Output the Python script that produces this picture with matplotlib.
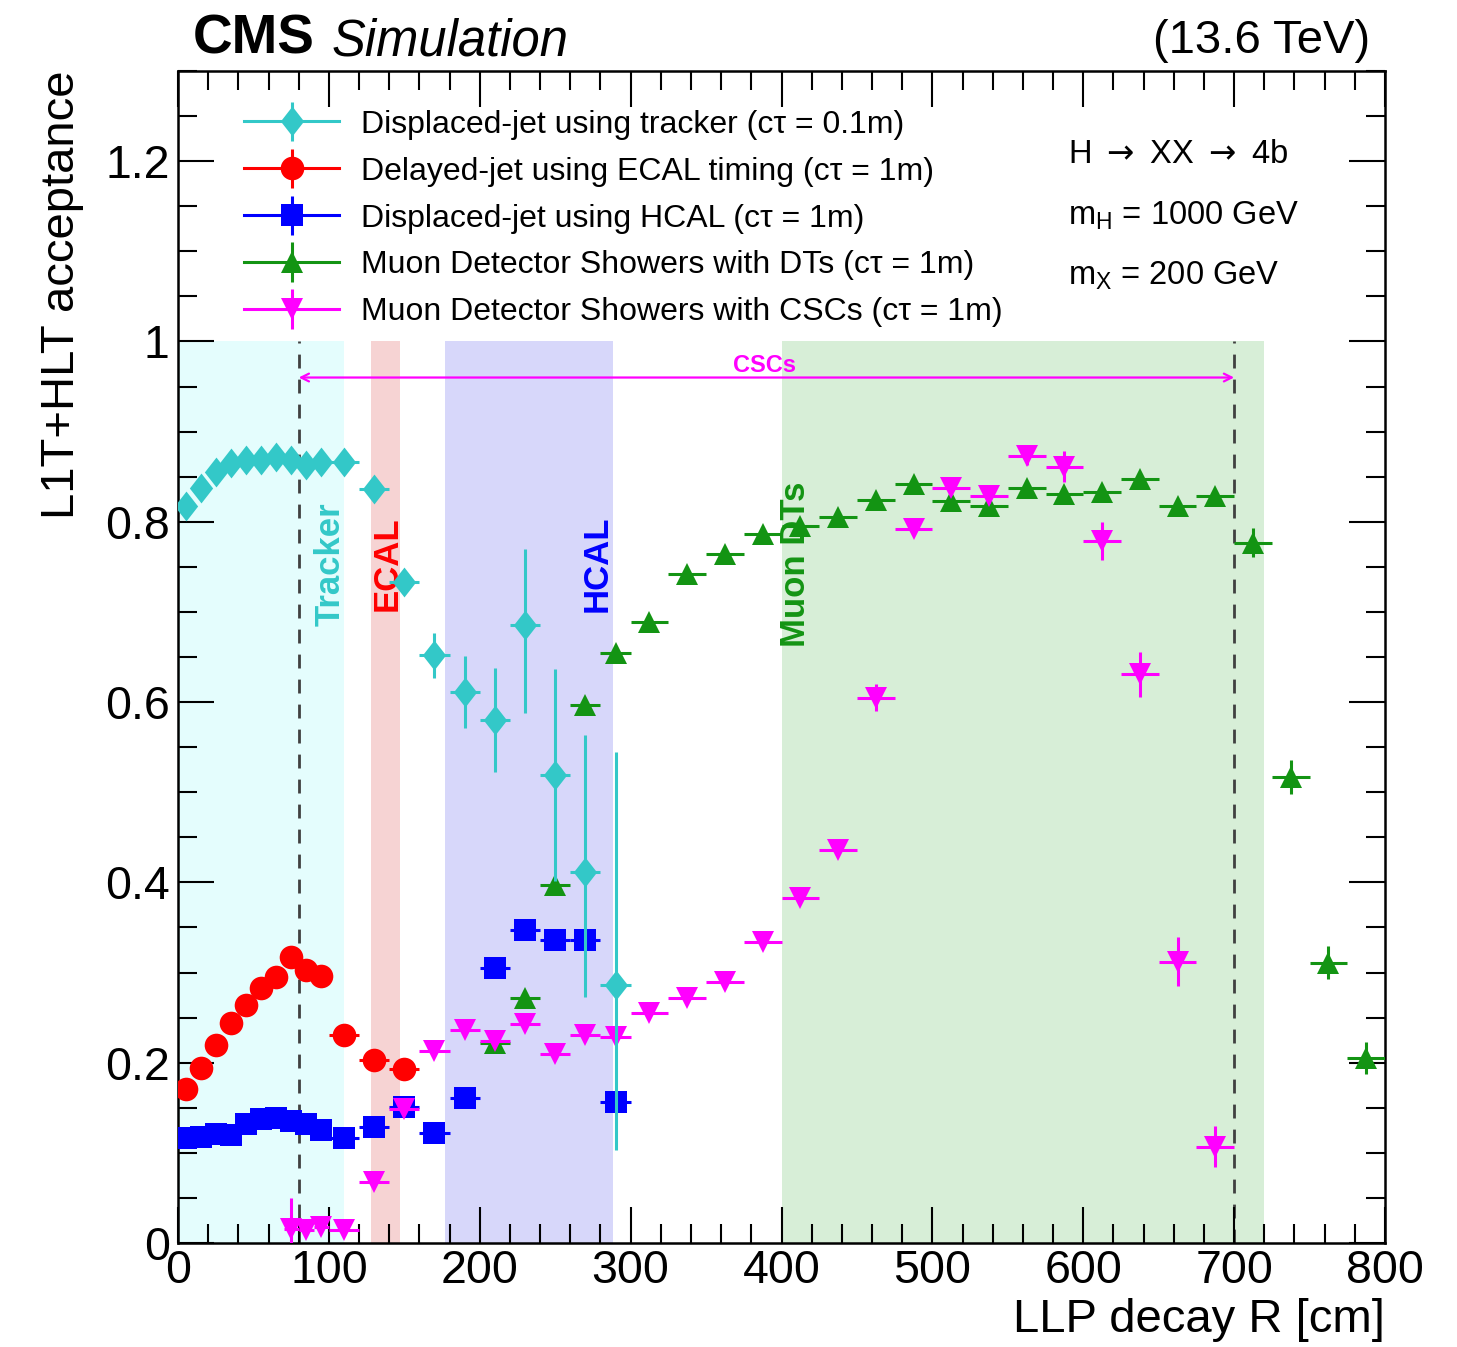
import numpy as np
import matplotlib
matplotlib.use('Agg')
import matplotlib.pyplot as plt
from matplotlib.ticker import MultipleLocator, FuncFormatter
from matplotlib.path import Path
from matplotlib.legend_handler import HandlerErrorbar
from matplotlib.container import ErrorbarContainer

plt.rcParams['font.family'] = ['Liberation Sans', 'DejaVu Sans']
plt.rcParams['mathtext.fontset'] = 'custom'
plt.rcParams['mathtext.rm'] = 'Liberation Sans'
plt.rcParams['mathtext.it'] = 'Liberation Sans:italic'
plt.rcParams['mathtext.bf'] = 'Liberation Sans:bold'

# ---------------- data ----------------
# Displaced-jet using tracker (ctau = 0.1 m)
R_trk = [5, 15, 25, 35, 45, 55, 65, 75, 85, 95, 110, 130, 150, 170, 190, 210, 230, 250, 270, 290]
xe_trk = [5] * 10 + [10] * 10
acc_trk = [0.818, 0.838, 0.855, 0.865, 0.869, 0.868, 0.872, 0.869, 0.863, 0.866,
           0.866, 0.836, 0.733, 0.652, 0.611, 0.580, 0.685, 0.519, 0.411, 0.286]
lo_trk = [0.004] * 12 + [0.010, 0.025, 0.040, 0.058, 0.097, 0.117, 0.138, 0.183]
hi_trk = [0.004] * 12 + [0.010, 0.025, 0.040, 0.058, 0.085, 0.118, 0.152, 0.259]

# Delayed-jet using ECAL timing (ctau = 1 m)
R_ecal = [5, 15, 25, 35, 45, 55, 65, 75, 85, 95, 110, 130, 150]
xe_ecal = [5] * 10 + [10] * 3
acc_ecal = [0.171, 0.194, 0.220, 0.244, 0.264, 0.283, 0.295, 0.317, 0.303, 0.296,
            0.231, 0.203, 0.193]
err_ecal = [0.004] * 13

# Displaced-jet using HCAL (ctau = 1 m)
R_hcal = [5, 15, 25, 35, 45, 55, 65, 75, 85, 95, 110, 130, 150, 170, 190, 210, 230, 250, 270, 290]
xe_hcal = [5] * 10 + [10] * 10
acc_hcal = [0.116, 0.118, 0.121, 0.120, 0.132, 0.138, 0.139, 0.135, 0.132, 0.125,
            0.116, 0.129, 0.151, 0.122, 0.161, 0.305, 0.347, 0.336, 0.336, 0.156]
err_hcal = [0.004] * 20

# Muon Detector Showers with DTs (ctau = 1 m)
R_dt = [210, 230, 250, 270, 290, 312.5, 337.5, 362.5, 387.5, 412.5, 437.5, 462.5, 487.5,
        512.5, 537.5, 562.5, 587.5, 612.5, 637.5, 662.5, 687.5, 712.5, 737.5, 762.5, 787.5]
xe_dt = [10] * 5 + [12.5] * 20
acc_dt = [0.222, 0.272, 0.397, 0.597, 0.654, 0.689, 0.742, 0.764, 0.786, 0.795, 0.805,
          0.824, 0.842, 0.823, 0.817, 0.837, 0.831, 0.833, 0.847, 0.818, 0.829, 0.777,
          0.517, 0.311, 0.205]
err_dt = [0.005] * 21 + [0.016, 0.019, 0.018, 0.018]

# Muon Detector Showers with CSCs (ctau = 1 m)
R_csc = [75, 85, 95, 110, 130, 150, 170, 190, 210, 230, 250, 270, 290, 312.5, 337.5,
         362.5, 387.5, 412.5, 437.5, 462.5, 487.5, 512.5, 537.5, 562.5, 587.5, 612.5,
         637.5, 662.5, 687.5]
xe_csc = [5] * 3 + [10] * 10 + [12.5] * 16
acc_csc = [0.016, 0.014, 0.018, 0.014, 0.068, 0.149, 0.213, 0.236, 0.224, 0.243, 0.210,
           0.231, 0.229, 0.255, 0.272, 0.290, 0.334, 0.383, 0.436, 0.605, 0.792, 0.838,
           0.829, 0.873, 0.861, 0.779, 0.631, 0.312, 0.107]
lo_csc = [0.016] + [0.005] * 18 + [0.015, 0.006, 0.008, 0.008, 0.010, 0.017, 0.021, 0.025, 0.027, 0.023]
hi_csc = [0.034] + [0.005] * 18 + [0.015, 0.006, 0.008, 0.008, 0.010, 0.017, 0.021, 0.025, 0.027, 0.023]

labels = ["Displaced-jet using tracker (c\u03c4 = 0.1m)",
          "Delayed-jet using ECAL timing (c\u03c4 = 1m)",
          "Displaced-jet using HCAL (c\u03c4 = 1m)",
          "Muon Detector Showers with DTs (c\u03c4 = 1m)",
          "Muon Detector Showers with CSCs (c\u03c4 = 1m)"]

# detector regions [cm]
regions = [("Tracker", 0, 110, '#e4fdfd', '#33c8c8'),
           ("ECAL", 128, 147, '#f6d3d3', '#ff0000'),
           ("HCAL", 177, 288, '#d7d7fa', '#0000ff'),
           ("Muon DTs", 400, 720, '#d7eed7', '#139413')]
csc_range = (80, 700)

# ---------------- style ----------------
c_trk, c_ecal, c_hcal, c_dt, c_csc = '#33c8c8', '#ff0000', '#0000ff', '#139413', '#ff00ff'
diamond = Path([(0, 1), (0.78, 0), (0, -1), (-0.78, 0), (0, 1)],
               [Path.MOVETO, Path.LINETO, Path.LINETO, Path.LINETO, Path.CLOSEPOLY])

fig = plt.figure(figsize=(14.57, 13.47), dpi=100)
ax = fig.add_axes([178 / 1457, 104 / 1347, 1207 / 1457, 1172 / 1347])
ax.set_xlim(0, 800)
ax.set_ylim(0, 1.3)

# bands
for name, x0, x1, fc, tc in regions:
    ax.fill_between([x0, x1], 0, 1, color=fc, lw=0, zorder=0)
for xv in csc_range:
    ax.vlines(xv, 0, 1, colors='#404040', linestyles=(0, (5, 4)), lw=2.0, zorder=1)

# band labels
label_x = {"Tracker": 100.5, "ECAL": 138.5, "HCAL": 278, "Muon DTs": 409}
for name, x0, x1, fc, tc in regions:
    ax.text(label_x[name], 0.753, name, rotation=90, ha='center', va='center',
            color=tc, fontsize=25, fontweight='bold', zorder=2)

ax.annotate('', xy=(csc_range[1], 0.960), xytext=(csc_range[0], 0.960),
            arrowprops=dict(arrowstyle='<->', color=c_csc, lw=1.6, mutation_scale=14,
                            shrinkA=0, shrinkB=0), zorder=2)
ax.text(389, 0.973, "CSCs", color=c_csc, fontsize=17, fontweight='bold',
        ha='center', va='center', zorder=2)

common = dict(ls='none', elinewidth=2.2, capsize=3.5, capthick=2.2, mew=0)
ax.errorbar(R_dt, acc_dt, xerr=xe_dt, yerr=err_dt, marker='^', ms=16,
            color=c_dt, zorder=3, **common)
ax.errorbar(R_hcal, acc_hcal, xerr=xe_hcal, yerr=err_hcal, marker='s', ms=16,
            color=c_hcal, zorder=4, **common)
ax.errorbar(R_csc, acc_csc, xerr=xe_csc, yerr=[lo_csc, hi_csc], marker='v', ms=16,
            color=c_csc, zorder=5, **common)
ax.errorbar(R_ecal, acc_ecal, xerr=xe_ecal, yerr=err_ecal, marker='o', ms=17,
            color=c_ecal, zorder=6, **common)
ax.errorbar(R_trk, acc_trk, xerr=xe_trk, yerr=[lo_trk, hi_trk], marker=diamond, ms=21.5,
            color=c_trk, zorder=7, **common)

# legend proxies
proxies = []
for m, c, s in [(diamond, c_trk, 21.5), ('o', c_ecal, 17), ('s', c_hcal, 16),
                ('^', c_dt, 16), ('v', c_csc, 16)]:
    h = ax.errorbar([np.nan], [np.nan], yerr=[0.1], marker=m, ms=s, color=c, ls='-',
                    lw=2.2, elinewidth=2.2, capsize=3.5, capthick=2.2, mew=0)
    proxies.append(h)
ax.legend(proxies, labels, loc='upper left', bbox_to_anchor=(0.055, 0.967),
          frameon=False, fontsize=23, handlelength=2.95, handletextpad=0.7,
          labelspacing=0.53, borderpad=0, borderaxespad=0,
          handler_map={ErrorbarContainer: HandlerErrorbar(yerr_size=0.62)})

# model text
ax.text(0.7374, 0.9215, r"H $\rightarrow$ XX $\rightarrow$ 4b", transform=ax.transAxes,
        fontsize=23.5, ha='left', va='baseline', math_fontfamily='dejavusans')
ax.text(0.7374, 0.8686, r"m$_{\mathrm{H}}$ = 1000 GeV", transform=ax.transAxes,
        fontsize=23.5, ha='left', va='baseline')
ax.text(0.7374, 0.8174, r"m$_{\mathrm{X}}$ = 200 GeV", transform=ax.transAxes,
        fontsize=23.5, ha='left', va='baseline')

# axes style
ax.xaxis.set_major_locator(MultipleLocator(100))
ax.xaxis.set_minor_locator(MultipleLocator(20))
ax.yaxis.set_major_locator(MultipleLocator(0.2))
ax.yaxis.set_minor_locator(MultipleLocator(0.05))
ax.yaxis.set_major_formatter(FuncFormatter(lambda v, p: f"{v:g}"))
ax.tick_params(which='both', direction='in', top=True, right=True, width=1.5)
ax.tick_params(which='major', length=26)
ax.tick_params(which='minor', length=14)
ax.tick_params(axis='both', labelsize=33.5)
ax.tick_params(axis='x', pad=4)
ax.tick_params(axis='y', pad=6)
for sp in ax.spines.values():
    sp.set_linewidth(1.8)

ax.set_xlabel("LLP decay R [cm]", fontsize=34, loc='right')
ax.xaxis.set_label_coords(1.0, -0.047)
ax.set_ylabel("L1T+HLT acceptance", fontsize=34, loc='top')
ax.yaxis.set_label_coords(-0.078, 1.0)

# header
cms = fig.text(193 / 1457, (1347 - 54) / 1347, "CMS", fontsize=39.5, fontweight='bold',
               ha='left', va='baseline')
ax.annotate("Simulation", xy=(1, 0), xycoords=cms, xytext=(12, 0),
            textcoords='offset points', fontsize=36.5, style='italic',
            ha='left', va='bottom', annotation_clip=False)
fig.text(1370 / 1457, (1347 - 53) / 1347, "(13.6 TeV)", fontsize=34,
         ha='right', va='baseline')

fig.savefig('out.png', dpi=100)
